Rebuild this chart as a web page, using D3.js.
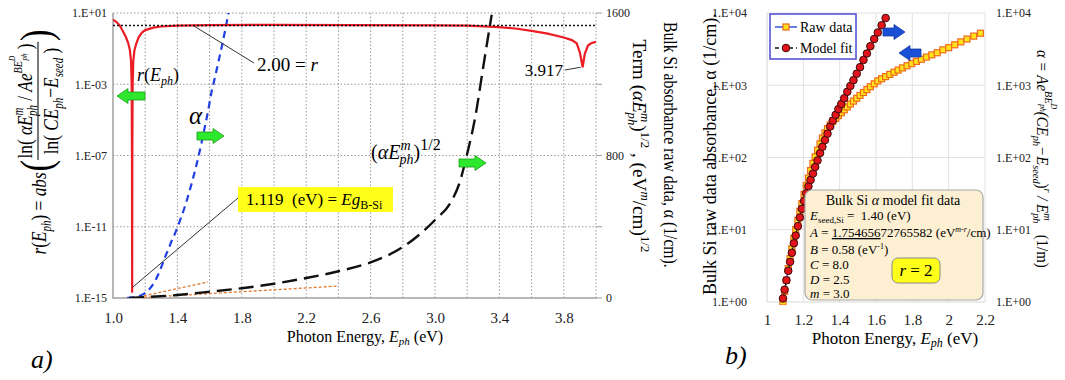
<!DOCTYPE html>
<html lang="en">
<head>
<meta charset="utf-8">
<title>Bulk Si absorbance model fit</title>
<script src="https://d3js.org/d3.v7.min.js"></script>
<style>
  body { margin: 0; background: #fff; }
  svg text { white-space: pre; }
</style>
</head>
<body>
<script>

// ---------- data ----------

// panel a) r(E_ph), left log axis
var rEnergy = [1.00, 1.02, 1.04, 1.06, 1.08, 1.095, 1.105, 1.112, 1.116, 1.118,
               1.119, 1.120, 1.122, 1.126, 1.133, 1.145, 1.16, 1.18, 1.20, 1.25,
               1.30, 1.40, 1.60, 2.00, 2.50, 3.00, 3.20, 3.40, 3.50, 3.60,
               3.70, 3.80, 3.85, 3.88, 3.90, 3.917, 3.93, 3.95, 3.97, 4.00];
var rValue = [4.2, 3.2, 2.1, 1.0, 0.45, 0.2, 0.08, 0.02, 1e-3, 1e-7,
              2e-15, 1e-7, 1e-3, 0.02, 0.08, 0.2, 0.45, 0.8, 1.1, 1.5,
              1.75, 1.95, 2.1, 2.15, 2.1, 2.0, 1.95, 1.6, 1.35, 1.0,
              0.7, 0.42, 0.3, 0.2, 0.06, 0.009, 0.05, 0.15, 0.2, 0.24];
var rFit = 2.00;
var egap = 1.119;

// bulk Si raw absorbance (panel b squares, panel a blue dashes)
var rawEnergy = [1.088, 1.097, 1.107, 1.117, 1.127, 1.137, 1.148, 1.158, 1.170, 1.181,
                 1.192, 1.204, 1.216, 1.228, 1.240, 1.253, 1.265, 1.278, 1.292, 1.305,
                 1.319, 1.333, 1.348, 1.362, 1.378, 1.393, 1.409, 1.425, 1.442, 1.459,
                 1.476, 1.494, 1.512, 1.531, 1.550, 1.569, 1.590, 1.610, 1.631, 1.653,
                 1.676, 1.699, 1.722, 1.746, 1.771, 1.797, 1.823, 1.850, 1.878, 1.907,
                 1.937, 1.968, 2.000, 2.033, 2.067, 2.101, 2.138, 2.175];
var rawAlpha = [1.0, 1.4, 2.0, 2.9, 4.0, 5.5, 7.6, 10, 13.5, 18,
                23, 31, 41, 52, 66, 83, 102, 126, 155, 186,
                219, 251, 282, 316, 347, 380, 417, 457, 501, 550,
                603, 661, 724, 794, 871, 955, 1047, 1148, 1230, 1318,
                1413, 1514, 1622, 1738, 1862, 1995, 2138, 2291, 2455, 2630,
                2818, 3090, 3311, 3631, 3981, 4365, 4786, 5248];

// model fit (panel b circles)
var fitEnergy = [1.088, 1.097, 1.107, 1.117, 1.127, 1.137, 1.148, 1.158, 1.170, 1.181,
                 1.192, 1.204, 1.216, 1.228, 1.240, 1.253, 1.265, 1.278, 1.292, 1.305,
                 1.319, 1.333, 1.348, 1.362, 1.378, 1.393, 1.409, 1.425, 1.442, 1.459,
                 1.476, 1.494, 1.512, 1.531, 1.550, 1.569, 1.590, 1.610, 1.631, 1.653];
var fitAlpha = [1.12, 1.48, 2.0, 2.7, 3.6, 4.8, 6.5, 8.3, 11.2, 14.8,
                19.5, 25, 32, 40, 49, 60, 74, 91, 115, 141,
                174, 214, 269, 324, 389, 468, 550, 661, 813, 977,
                1175, 1445, 1778, 2239, 2754, 3467, 4365, 5370, 6761, 8511];

// (alpha E^m)^1/2 term, right linear axis of panel a
var termEnergy = [1.10, 1.20, 1.40, 1.60, 1.80, 2.00, 2.20, 2.40, 2.60, 2.80,
                  3.00, 3.10, 3.15, 3.20, 3.25, 3.30, 3.352];
var termValue = [0, 5, 17, 35, 55, 80, 112, 150, 200, 286,
                 438, 540, 640, 810, 1016, 1300, 1590];

// orange tangent lines
var tan1Energy = [1.13, 1.59], tan1Value = [0, 90];
var tan2Energy = [1.13, 2.40], tan2Value = [0, 67];

// ticks
var aTickE = [1.0, 1.4, 1.8, 2.2, 2.6, 3.0, 3.4, 3.8];
var aGridE = [1.2, 1.4, 1.6, 1.8, 2.0, 2.2, 2.4, 2.6, 2.8, 3.0, 3.2, 3.4, 3.6, 3.8, 4.0];
var aTickR = [1e-15, 1e-11, 1e-7, 1e-3, 1e1];
var aTickAlpha = [0, 800, 1600];
var aMarkAlpha = [0, 400, 800, 1200, 1600];
var bTickE = [1, 1.2, 1.4, 1.6, 1.8, 2, 2.2];
var bTickAlpha = [1, 10, 100, 1000, 10000];

// ---------- setup ----------
var w = 1065, h = 380;
var serif = "Liberation Serif, Times New Roman, serif";
var svg = d3.select("body").append("svg").attr("width", w).attr("height", h)
  .attr("font-family", serif);

var xa = d3.scaleLinear().domain([1, 4]).range([113, 596]);
var yaR = d3.scaleLog().domain([1e-15, 10]).range([298, 13]);
var yaA = d3.scaleLinear().domain([0, 1600]).range([298, 13]);
var xb = d3.scaleLinear().domain([1, 2.2]).range([767, 985]);
var yb = d3.scaleLog().domain([1, 1e4]).range([302, 13]);

var fmtE = function(d) {
  var e = Math.round(Math.log10(d));
  return "1.E" + (e < 0 ? "-" : "+") + (Math.abs(e) < 10 ? "0" : "") + Math.abs(e);
};

// text with sub / superscripts
function rich(sel, parts, size) {
  var cur = 0;
  parts.forEach(function(p) {
    if (typeof p === "string") p = {t: p};
    var sh = p.sh || 0;
    var ts = sel.append("tspan").attr("dy", sh - cur).attr("font-size", p.fs || size).text(p.t);
    if (p.i) ts.attr("font-style", "italic");
    if (p.dx) ts.attr("dx", p.dx);
    if (p.u) ts.attr("text-decoration", "underline");
    cur = sh;
  });
  return sel;
}

// squeeze a rotated title to the length it has in the figure
function fitText(g, cx, cy, angle, len) {
  var b = g.node().getBBox();
  g.attr("transform", "translate(" + cx + "," + cy + ") rotate(" + angle + ") scale(" +
    (len / b.width) + ",1) translate(" + (-(b.x + b.width / 2)) + ",0)");
}

function blockArrow(x1, x2, y, fill, edge) {
  var dir = x2 > x1 ? 1 : -1, xb0 = x2 - 11 * dir, bh = 4, hh = 7.5;
  var p = "M" + x1 + "," + (y - bh) + "L" + xb0 + "," + (y - bh) + "L" + xb0 + "," + (y - hh) +
          "L" + x2 + "," + y + "L" + xb0 + "," + (y + hh) + "L" + xb0 + "," + (y + bh) +
          "L" + x1 + "," + (y + bh) + "Z";
  svg.append("path").attr("d", p).attr("fill", fill).attr("stroke", edge).attr("stroke-width", 0.8);
}

function styleAxis(g, size) {
  g.attr("font-family", null).attr("font-size", null);
  g.select(".domain").remove();
  g.selectAll("text").attr("font-size", size).attr("fill", "#222");
  return g;
}

var defs = svg.append("defs");
defs.append("clipPath").attr("id", "clipA").append("rect")
  .attr("x", 113).attr("y", 13).attr("width", 483).attr("height", 285);
defs.append("clipPath").attr("id", "clipB").append("rect")
  .attr("x", 760).attr("y", 5).attr("width", 230).attr("height", 300);

// ================= panel a =================

// grid
svg.append("g").selectAll("line").data(aGridE).enter().append("line")
  .attr("x1", d => xa(d)).attr("x2", d => xa(d)).attr("y1", 13).attr("y2", 298)
  .attr("stroke", "#9a9a9a").attr("stroke-dasharray", "1.5,2");
svg.append("g").selectAll("line").data(aTickR.slice(1)).enter().append("line")
  .attr("x1", 113).attr("x2", 596).attr("y1", d => yaR(d)).attr("y2", d => yaR(d))
  .attr("stroke", "#9a9a9a").attr("stroke-dasharray", "1.5,2");
svg.append("g").selectAll("line").data(aMarkAlpha).enter().append("line")
  .attr("x1", 596).attr("x2", 602).attr("y1", d => yaA(d)).attr("y2", d => yaA(d))
  .attr("stroke", "#9a9a9a");
svg.append("path").attr("d", "M113,13V298H596").attr("fill", "none")
  .attr("stroke", "#a0a0a0").attr("stroke-width", 1.5);

// axes
styleAxis(svg.append("g").attr("transform", "translate(113,0)")
  .call(d3.axisLeft(yaR).tickValues(aTickR).tickFormat(fmtE).tickSize(0).tickPadding(6)), 12);
styleAxis(svg.append("g").attr("transform", "translate(596,0)")
  .call(d3.axisRight(yaA).tickValues(aTickAlpha).tickFormat(d3.format("d")).tickSize(0).tickPadding(10)), 12);
styleAxis(svg.append("g").attr("transform", "translate(0,298)")
  .call(d3.axisBottom(xa).tickValues(aTickE).tickFormat(d3.format(".1f")).tickSize(0)), 15)
  .selectAll("text").attr("y", 25).attr("dy", null);

// curves
var plotA = svg.append("g").attr("clip-path", "url(#clipA)");
function linA(xs, sc) { return d3.line().x((d, i) => xa(xs[i])).y(d => sc(d)); }

plotA.append("path").datum(tan1Value).attr("d", linA(tan1Energy, yaA))
  .attr("fill", "none").attr("stroke", "#e07b30").attr("stroke-width", 1.3).attr("stroke-dasharray", "3,2");
plotA.append("path").datum(tan2Value).attr("d", linA(tan2Energy, yaA))
  .attr("fill", "none").attr("stroke", "#e07b30").attr("stroke-width", 1.3).attr("stroke-dasharray", "3,2");
plotA.append("path").datum(rawAlpha).attr("d", linA(rawEnergy, yaA).curve(d3.curveMonotoneX))
  .attr("fill", "none").attr("stroke", "#1f3fe0").attr("stroke-width", 2.2).attr("stroke-dasharray", "7,5");
plotA.append("path").datum(termValue).attr("d", linA(termEnergy, yaA).curve(d3.curveMonotoneX))
  .attr("fill", "none").attr("stroke", "#111").attr("stroke-width", 2.4).attr("stroke-dasharray", "15,7");
plotA.append("path").datum(rValue).attr("d", linA(rEnergy, yaR))
  .attr("fill", "none").attr("stroke", "#ec1c24").attr("stroke-width", 2.2);
plotA.append("line").attr("x1", xa(1)).attr("x2", xa(4)).attr("y1", yaR(rFit)).attr("y2", yaR(rFit))
  .attr("stroke", "#111").attr("stroke-width", 1.6).attr("stroke-dasharray", "2,2");

// annotations
svg.append("line").attr("x1", 193).attr("y1", yaR(rFit)).attr("x2", 254).attr("y2", 63)
  .attr("stroke", "#333").attr("stroke-width", 1);
rich(svg.append("text").attr("x", 257).attr("y", 71).attr("font-size", 19),
  [rFit.toFixed(2) + " = ", {t: "r", i: 1}], 19);

rich(svg.append("text").attr("x", 137).attr("y", 81).attr("font-size", 18),
  [{t: "r", i: 1}, "(", {t: "E", i: 1}, {t: "ph", i: 1, sh: 4, fs: 12}, {t: ")", sh: 0}], 18);
blockArrow(145, 117, 96, "#2ee82e", "#1a9a1a");

svg.append("text").attr("x", 189).attr("y", 124).attr("font-size", 25).attr("font-style", "italic").text("α");
blockArrow(197, 224, 136, "#2ee82e", "#1a9a1a");

rich(svg.append("text").attr("x", 371).attr("y", 159).attr("font-size", 20),
  ["(", {t: "αE", i: 1}, {t: "m", i: 1, sh: -9, fs: 14}, {t: "ph", i: 1, sh: 5, fs: 14, dx: -11},
   {t: ")", sh: 0}, {t: "1/2", sh: -9, fs: 16}], 20);
blockArrow(459, 486, 163, "#2ee82e", "#1a9a1a");

svg.append("line").attr("x1", 565).attr("y1", 70).attr("x2", xa(3.917) - 2).attr("y2", yaR(0.009))
  .attr("stroke", "#333").attr("stroke-width", 1);
svg.append("text").attr("x", 563).attr("y", 76).attr("font-size", 17).attr("text-anchor", "end").text("3.917");

svg.append("line").attr("x1", xa(egap)).attr("y1", yaR(2e-15) - 5).attr("x2", 238).attr("y2", 198)
  .attr("stroke", "#333").attr("stroke-width", 1);
svg.append("rect").attr("x", 238).attr("y", 187).attr("width", 155).attr("height", 25).attr("fill", "#ffff1a");
rich(svg.append("text").attr("x", 246).attr("y", 205).attr("font-size", 17),
  [egap.toFixed(3) + "  (eV) = ", {t: "Eg", i: 1}, {t: "B-Si", sh: 4, fs: 12}], 17);

// left title: r(E_ph) = abs( ln(...) / ln(...) )
var gL = svg.append("g");
var tMain = rich(gL.append("text").attr("x", 0).attr("y", 8).attr("font-size", 22),
  [{t: "r", i: 1}, "(", {t: "E", i: 1}, {t: "ph", i: 1, sh: 5, fs: 14}, {t: ") = ", sh: 0}, {t: "abs", i: 1}], 22);
var w0 = tMain.node().getBBox().width;
var pOpen = gL.append("text").attr("x", w0 + 1).attr("y", 13).attr("font-size", 44).text("(");
var w1 = w0 + 1 + pOpen.node().getBBox().width;
var tNum = rich(gL.append("text").attr("y", -6).attr("font-size", 22),
  ["ln( ", {t: "αE", i: 1}, {t: "m", i: 1, sh: -9, fs: 14}, {t: "ph", i: 1, sh: 5, fs: 14, dx: -11},
   {t: " / ", sh: 0}, {t: "Ae", i: 1}, {t: "BE", i: 1, sh: -10, fs: 13}, {t: "D", i: 1, sh: -17, fs: 9},
   {t: "ph", i: 1, sh: -5, fs: 9, dx: -6}, {t: " )", sh: 0}], 22);
var tDen = rich(gL.append("text").attr("y", 20).attr("font-size", 22),
  ["ln( ", {t: "CE", i: 1}, {t: "ph", i: 1, sh: 5, fs: 14}, {t: "−", sh: 0}, {t: "E", i: 1},
   {t: "seed", i: 1, sh: 5, fs: 14}, {t: " )", sh: 0}], 22);
var wn = tNum.node().getBBox().width, wd = tDen.node().getBBox().width;
var wf = Math.max(wn, wd) + 4;
tNum.attr("x", w1 + (wf - wn) / 2);
tDen.attr("x", w1 + (wf - wd) / 2);
gL.append("line").attr("x1", w1).attr("x2", w1 + wf).attr("y1", 0).attr("y2", 0)
  .attr("stroke", "#222").attr("stroke-width", 1.2);
gL.append("text").attr("x", w1 + wf + 1).attr("y", 13).attr("font-size", 44).text(")");
fitText(gL, 38, 142, -90, 225);

// right titles of panel a
var gR1 = svg.append("g");
gR1.append("text").attr("font-size", 18).text("Bulk Si absorbance raw data, α (1/cm).");
fitText(gR1, 664, 145, 90, 246);
var gR2 = svg.append("g");
rich(gR2.append("text").attr("font-size", 18),
  ["Term (", {t: "αE", i: 1}, {t: "m", i: 1, sh: -8, fs: 12}, {t: "ph", i: 1, sh: 5, fs: 12, dx: -9},
   {t: ")", sh: 0}, {t: "1/2", sh: -8, fs: 12}, {t: " , (eV", sh: 0}, {t: "m", i: 1, sh: -8, fs: 12},
   {t: "/cm)", sh: 0}, {t: "1/2", sh: -8, fs: 12}], 18);
fitText(gR2, 633, 146, 90, 213);

rich(svg.append("text").attr("x", 365).attr("y", 342).attr("font-size", 16).attr("text-anchor", "middle"),
  ["Photon Energy, ", {t: "E", i: 1}, {t: "ph", i: 1, sh: 3, fs: 11}, {t: " (eV)", sh: 0}], 16);
svg.append("text").attr("x", 31).attr("y", 368).attr("font-size", 26).attr("font-style", "italic").text("a)");

// ================= panel b =================

svg.append("g").selectAll("line").data(bTickE.slice(1)).enter().append("line")
  .attr("x1", d => xb(d)).attr("x2", d => xb(d)).attr("y1", 13).attr("y2", 302)
  .attr("stroke", "#e2e2e2");
svg.append("g").selectAll("line").data(bTickAlpha.slice(1)).enter().append("line")
  .attr("x1", 767).attr("x2", 985).attr("y1", d => yb(d)).attr("y2", d => yb(d))
  .attr("stroke", "#e2e2e2");
svg.append("path").attr("d", "M767,13V302H985").attr("fill", "none").attr("stroke", "#d8d8d8");

styleAxis(svg.append("g").attr("transform", "translate(767,0)")
  .call(d3.axisLeft(yb).tickValues(bTickAlpha).tickFormat(fmtE).tickSize(0).tickPadding(20)), 12);
styleAxis(svg.append("g").attr("transform", "translate(985,0)")
  .call(d3.axisRight(yb).tickValues(bTickAlpha).tickFormat(fmtE).tickSize(0).tickPadding(11)), 12);
styleAxis(svg.append("g").attr("transform", "translate(0,302)")
  .call(d3.axisBottom(xb).tickValues(bTickE).tickFormat(d3.format("~g")).tickSize(0)), 15)
  .selectAll("text").attr("y", 23).attr("dy", null);

var plotB = svg.append("g").attr("clip-path", "url(#clipB)");
function linB(xs) { return d3.line().x((d, i) => xb(xs[i])).y(d => yb(d)); }
plotB.append("path").datum(rawAlpha).attr("d", linB(rawEnergy))
  .attr("fill", "none").attr("stroke", "#3a55d0").attr("stroke-width", 1.2);
plotB.selectAll(".sq").data(rawAlpha).enter().append("rect")
  .attr("x", (d, i) => xb(rawEnergy[i]) - 3).attr("y", d => yb(d) - 3)
  .attr("width", 6).attr("height", 6)
  .attr("fill", "#ffe21a").attr("stroke", "#f06a1c").attr("stroke-width", 1.2);
plotB.append("path").datum(fitAlpha).attr("d", linB(fitEnergy))
  .attr("fill", "none").attr("stroke", "#111").attr("stroke-width", 1.2).attr("stroke-dasharray", "4,2");
plotB.selectAll(".ci").data(fitAlpha).enter().append("circle")
  .attr("cx", (d, i) => xb(fitEnergy[i])).attr("cy", d => yb(d)).attr("r", 3.8)
  .attr("fill", "#e0141a").attr("stroke", "#3a0a0a").attr("stroke-width", 1);

blockArrow(883, 905, 32, "#1a4fd8", "#1a3aa0");
blockArrow(921, 899, 53, "#1a4fd8", "#1a3aa0");

// legend
svg.append("rect").attr("x", 770).attr("y", 14).attr("width", 86).attr("height", 45)
  .attr("fill", "#fff").attr("stroke", "#4a4ad0").attr("stroke-width", 1.5);
svg.append("line").attr("x1", 775).attr("x2", 797).attr("y1", 27).attr("y2", 27)
  .attr("stroke", "#3a55d0").attr("stroke-width", 1.5);
svg.append("rect").attr("x", 783).attr("y", 24).attr("width", 6).attr("height", 6)
  .attr("fill", "#ffe21a").attr("stroke", "#f06a1c").attr("stroke-width", 1.2);
svg.append("text").attr("x", 800).attr("y", 32).attr("font-size", 14).text("Raw data");
svg.append("line").attr("x1", 775).attr("x2", 797).attr("y1", 48).attr("y2", 48)
  .attr("stroke", "#111").attr("stroke-width", 1.5).attr("stroke-dasharray", "4,3");
svg.append("circle").attr("cx", 786).attr("cy", 48).attr("r", 3.8)
  .attr("fill", "#e0141a").attr("stroke", "#3a0a0a");
svg.append("text").attr("x", 800).attr("y", 53).attr("font-size", 14).text("Model fit");

// parameter box
svg.append("rect").attr("x", 805).attr("y", 190).attr("width", 178).attr("height", 110).attr("rx", 7)
  .attr("fill", "#fdf0d2").attr("stroke", "#a8a8a8").attr("stroke-width", 1.2);
rich(svg.append("text").attr("x", 893).attr("y", 205).attr("font-size", 14).attr("text-anchor", "middle"),
  ["Bulk Si ", {t: "α", i: 1}, " model fit data"], 14);
rich(svg.append("text").attr("x", 810).attr("y", 220).attr("font-size", 13),
  [{t: "E", i: 1}, {t: "seed,Si", sh: 3, fs: 9}, {t: " =  1.40 (eV)", sh: 0}], 13);
rich(svg.append("text").attr("x", 810).attr("y", 237).attr("font-size", 13),
  [{t: "A", i: 1}, " = ", {t: "1.754656", u: 1}, "72765582 (eV", {t: "m-r", i: 1, sh: -5, fs: 8},
   {t: "/cm)", sh: 0}], 13);
rich(svg.append("text").attr("x", 810).attr("y", 254).attr("font-size", 13),
  [{t: "B", i: 1}, " = 0.58 (eV", {t: "-1", sh: -5, fs: 8}, {t: ")", sh: 0}], 13);
rich(svg.append("text").attr("x", 810).attr("y", 269).attr("font-size", 13), [{t: "C", i: 1}, " = 8.0"], 13);
rich(svg.append("text").attr("x", 810).attr("y", 284).attr("font-size", 13), [{t: "D", i: 1}, " = 2.5"], 13);
rich(svg.append("text").attr("x", 810).attr("y", 298).attr("font-size", 13), [{t: "m", i: 1}, " = 3.0"], 13);
svg.append("rect").attr("x", 892).attr("y", 258).attr("width", 48).attr("height", 25).attr("rx", 6)
  .attr("fill", "#ffff1a").attr("stroke", "#8a8a8a");
rich(svg.append("text").attr("x", 916).attr("y", 276).attr("font-size", 17).attr("text-anchor", "middle"),
  [{t: "r", i: 1}, " = 2"], 17);

// titles of panel b
var gBL = svg.append("g");
gBL.append("text").attr("font-size", 19).text("Bulk Si raw data absorbance, α (1/cm).");
fitText(gBL, 716, 154, -90, 282);

var gBR = svg.append("g");
rich(gBR.append("text").attr("font-size", 16),
  [{t: "α = Ae", i: 1}, {t: "BE", i: 1, sh: -8, fs: 11}, {t: "D", i: 1, sh: -14, fs: 8},
   {t: "ph", i: 1, sh: -3, fs: 8, dx: -5}, {t: "(CE", i: 1, sh: 0}, {t: "ph", i: 1, sh: 4, fs: 11},
   {t: "−E", i: 1, sh: 0}, {t: "seed", i: 1, sh: 4, fs: 11}, {t: ")", sh: 0}, {t: "r", i: 1, sh: -7, fs: 11},
   {t: " / E", i: 1, sh: 0}, {t: "m", i: 1, sh: -7, fs: 11}, {t: "ph", i: 1, sh: 4, fs: 11, dx: -8},
   {t: "   (1/m)", sh: 0}], 16);
fitText(gBR, 1037, 159, 90, 218);

rich(svg.append("text").attr("x", 895).attr("y", 344).attr("font-size", 17).attr("text-anchor", "middle"),
  ["Photon Energy, ", {t: "E", i: 1}, {t: "ph", i: 1, sh: 3, fs: 12}, {t: " (eV)", sh: 0}], 17);
svg.append("text").attr("x", 725).attr("y", 364).attr("font-size", 26).attr("font-style", "italic").text("b)");

</script>
</body>
</html>
